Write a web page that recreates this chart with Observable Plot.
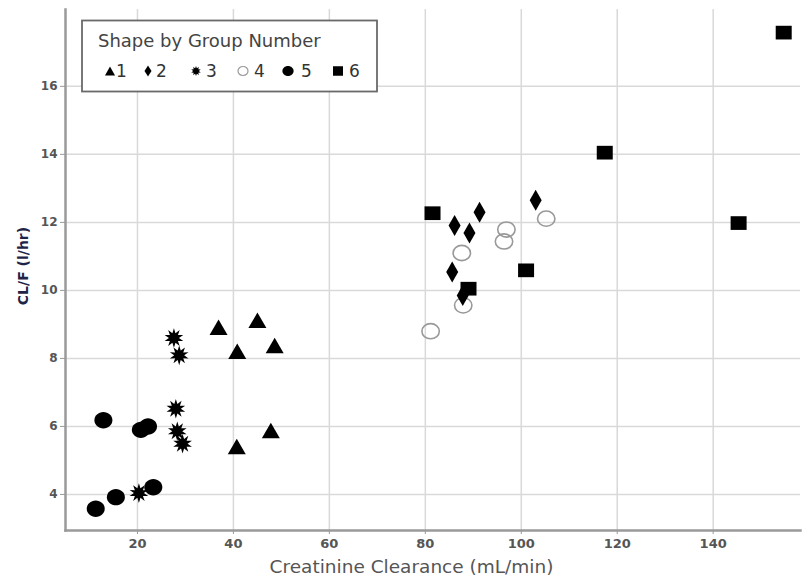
<!DOCTYPE html>
<html><head><meta charset="utf-8">
<script src="https://cdn.jsdelivr.net/npm/d3@7"></script>
<script src="https://cdn.jsdelivr.net/npm/@observablehq/plot@0.6"></script>
<style>
body{margin:0;background:#fff;}
#wrap{position:relative;width:804px;height:581px;font-family:"DejaVu Sans",sans-serif;}
#legend{position:absolute;left:0;top:0;pointer-events:none;}
</style>
</head><body>
<div id="wrap"></div>
<script>
// ---- data ----
const xTicks = [20, 40, 60, 80, 100, 120, 140];
const yTicks = [4, 6, 8, 10, 12, 14, 16];
const groups = ["1", "2", "3", "4", "5", "6"];
const legendTitle = "Shape by Group Number";
const xLabel = "Creatinine Clearance (mL/min)";
const yLabel = "CL/F (l/hr)";

const g1x = [36.9, 45.0, 40.8, 48.6, 40.7, 47.8];
const g1y = [8.92, 9.12, 8.21, 8.38, 5.41, 5.88];
const g2x = [103.0, 91.3, 86.1, 89.2, 85.6, 87.8];
const g2y = [12.65, 12.30, 11.91, 11.69, 10.54, 9.85];
const g3x = [27.6, 28.7, 28.0, 28.3, 29.4, 20.3];
const g3y = [8.60, 8.09, 6.52, 5.86, 5.49, 4.04];
const g4x = [105.2, 96.9, 96.4, 87.6, 87.9, 81.1];
const g4y = [12.11, 11.79, 11.44, 11.10, 9.56, 8.80];
const g5x = [12.9, 20.7, 22.2, 23.3, 15.5, 11.3];
const g5y = [6.18, 5.90, 6.00, 4.21, 3.92, 3.58];
const g6x = [81.5, 101.0, 89.0, 117.4, 145.3, 154.7];
const g6y = [12.27, 10.59, 10.05, 14.05, 11.98, 17.58];

const xs = [g1x, g2x, g3x, g4x, g5x, g6x];
const ys = [g1y, g2y, g3y, g4y, g5y, g6y];
const rows = groups.flatMap((g, i) => xs[i].map((x, j) => ({group: g, crcl: x, clf: ys[i][j]})));

// ---- custom symbols ----
function tri(w, h) { return {draw(c) { c.moveTo(0, -h / 2); c.lineTo(w / 2, h / 2); c.lineTo(-w / 2, h / 2); c.closePath(); }}; }
function dia(w, h) { return {draw(c) { c.moveTo(0, -h / 2); c.lineTo(w / 2, 0); c.lineTo(0, h / 2); c.lineTo(-w / 2, 0); c.closePath(); }}; }
function rect(w, h) { return {draw(c) { c.rect(-w / 2, -h / 2, w, h); }}; }
function star(R, r, n) { return {draw(c) {
  for (let i = 0; i < 2 * n; i++) {
    const a = Math.PI * i / n - Math.PI / 2, rr = i % 2 ? r : R;
    const px = rr * Math.cos(a), py = rr * Math.sin(a);
    if (i === 0) c.moveTo(px, py); else c.lineTo(px, py);
  }
  c.closePath();
}}; }
function ell(rx, ry) { return {draw(c) {
  const k = 0.5522847;
  c.moveTo(rx, 0);
  c.bezierCurveTo(rx, ry * k, rx * k, ry, 0, ry);
  c.bezierCurveTo(-rx * k, ry, -rx, ry * k, -rx, 0);
  c.bezierCurveTo(-rx, -ry * k, -rx * k, -ry, 0, -ry);
  c.bezierCurveTo(rx * k, -ry, rx, -ry * k, rx, 0);
  c.closePath();
}}; }

const styles = {
  "1": {symbol: tri(18, 15.5), fill: "#000", stroke: "none"},
  "2": {symbol: dia(12, 21), fill: "#000", stroke: "none"},
  "3": {symbol: star(9.8, 5, 10), fill: "#000", stroke: "none"},
  "4": {symbol: ell(8.7, 7.6), fill: "none", stroke: "#999", strokeWidth: 1.6},
  "5": {symbol: ell(9, 8.2), fill: "#000", stroke: "none"},
  "6": {symbol: rect(16, 13.7), fill: "#000", stroke: "none"}
};
const legendSyms = {
  "1": {symbol: tri(10, 9), fill: "#000", stroke: "none"},
  "2": {symbol: dia(7, 11), fill: "#000", stroke: "none"},
  "3": {symbol: star(5, 2.8, 10), fill: "#000", stroke: "none"},
  "4": {symbol: ell(5, 4.5), fill: "none", stroke: "#999", strokeWidth: 1.2},
  "5": {symbol: ell(5.6, 5), fill: "#000", stroke: "none"},
  "6": {symbol: rect(10, 9.5), fill: "#000", stroke: "none"}
};

const drawOrder = ["4", "1", "2", "3", "5", "6"];
const dotMarks = drawOrder.map(g => Plot.dot(rows.filter(d => d.group === g), {
  x: "crcl", y: "clf", r: 8, ...styles[g]
}));

const chart = Plot.plot({
  width: 804, height: 581,
  marginLeft: 65, marginRight: 4, marginTop: 9, marginBottom: 51,
  style: {fontFamily: "DejaVu Sans", background: "transparent"},
  x: {domain: [5, 158.2]},
  y: {domain: [2.94, 18.26]},
  marks: [
    Plot.gridX(xTicks, {stroke: "#d9d9d9", strokeOpacity: 1, strokeWidth: 1.5}),
    Plot.gridY(yTicks, {stroke: "#d9d9d9", strokeOpacity: 1, strokeWidth: 1.5}),
    Plot.frame({anchor: "left", stroke: "#9a9a9a", strokeWidth: 2.5}),
    Plot.frame({anchor: "bottom", stroke: "#9a9a9a", strokeWidth: 2.5}),
    Plot.axisY(yTicks, {tickSize: 5, tickPadding: 3, stroke: "#999", fill: "#555", fontSize: 12, fontWeight: "bold", label: null}),
    Plot.axisX(xTicks, {tickSize: 4, tickPadding: 4, stroke: "#999", fill: "#555", fontSize: 13, fontWeight: "bold", label: null}),
    ...dotMarks,
    Plot.text([yLabel], {text: d => d, frameAnchor: "left", textAnchor: "middle", lineAnchor: "middle",
      rotate: -90, dx: -42, dy: -4, fontSize: 14, fontWeight: "bold", fill: "#1c2448"}),
    Plot.text([xLabel], {text: d => d, frameAnchor: "bottom", textAnchor: "middle", lineAnchor: "middle",
      dx: -21.5, dy: 37, fontSize: 18.5, fill: "#555"})
  ]
});
const wrap = document.getElementById("wrap");
wrap.appendChild(chart);

// ---- legend (inside plot area, top-left) ----
const lg = d3.select(wrap).append("svg").attr("id", "legend")
  .attr("width", 804).attr("height", 120)
  .style("font-family", "DejaVu Sans");
lg.append("rect").attr("x", 82).attr("y", 20.5).attr("width", 295).attr("height", 71)
  .attr("fill", "#fff").attr("stroke", "#6a6a6a").attr("stroke-width", 1.8);
lg.append("text").attr("x", 98).attr("y", 47).attr("font-size", 18).attr("fill", "#444").text(legendTitle);
const symX = [110, 148, 196, 243, 288, 338];
const numX = [116, 156, 206, 254, 301, 349];
groups.forEach((g, i) => {
  const s = legendSyms[g];
  const p = d3.path(); s.symbol.draw(p);
  lg.append("path").attr("transform", `translate(${symX[i]},71)`).attr("d", p.toString())
    .attr("fill", s.fill).attr("stroke", s.stroke).attr("stroke-width", s.strokeWidth || 0);
  lg.append("text").attr("x", numX[i]).attr("y", 71).attr("dy", "0.36em").attr("font-size", 17).attr("fill", "#333").text(g);
});
</script>
</body></html>
